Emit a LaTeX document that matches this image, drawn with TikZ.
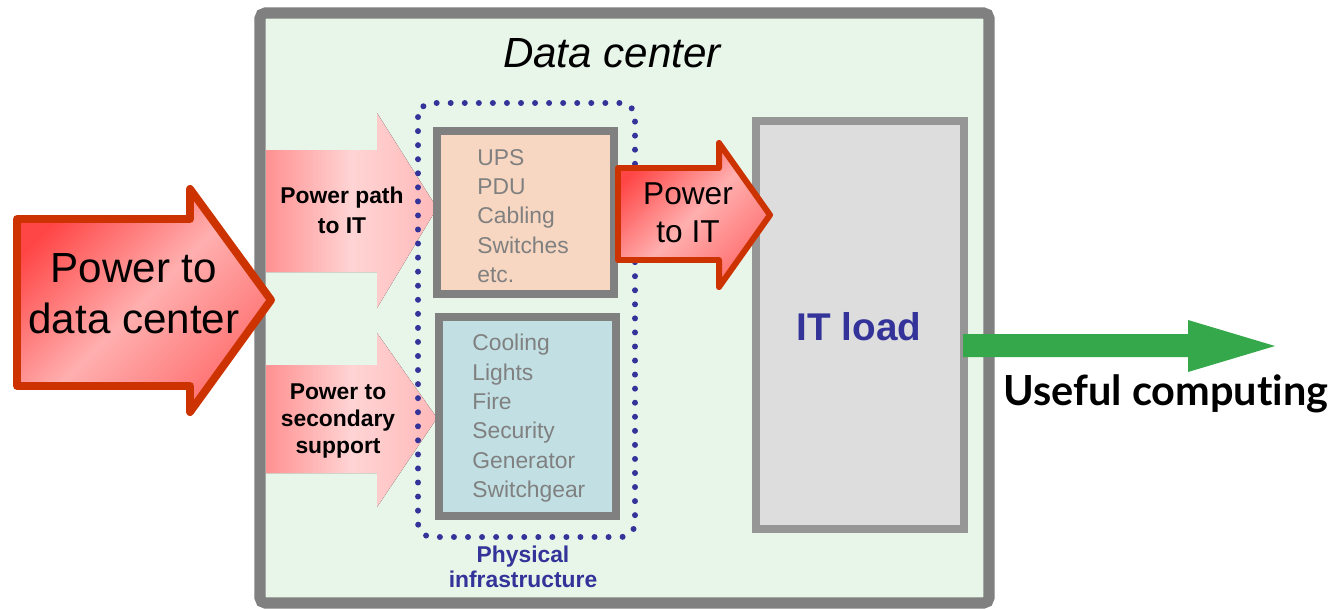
\documentclass[tikz,border=0pt]{standalone}
\usepackage{fontspec}
\setmainfont{Liberation Sans}
\newfontfamily\latofont[Ligatures=NoCommon]{Lato}
\usetikzlibrary{positioning,calc}

\definecolor{dcfill}{RGB}{232,245,233}
\definecolor{dcgray}{RGB}{128,128,128}
\definecolor{itgray}{RGB}{150,150,150}
\definecolor{itfill}{RGB}{221,221,221}
\definecolor{upsfill}{RGB}{247,215,193}
\definecolor{coolfill}{RGB}{194,224,228}
\definecolor{infblue}{RGB}{51,51,153}
\definecolor{arrowedge}{RGB}{204,51,0}
\definecolor{arrowred}{RGB}{255,70,70}
\definecolor{arrowpink}{RGB}{255,175,175}
\definecolor{arrowdeep}{RGB}{255,110,110}
\definecolor{pinkA}{RGB}{255,145,145}
\definecolor{pinkL}{RGB}{255,212,212}
\definecolor{pinkB}{RGB}{255,185,185}
\definecolor{usefulgreen}{RGB}{52,168,74}

\begin{document}
\begin{tikzpicture}[x=0.02cm,y=-0.02cm,
    redarrow/.style={draw=arrowedge, line join=round, top color=arrowred, bottom color=arrowdeep, middle color=arrowpink, shading angle=45},
    pinkarrow/.style={left color=pinkA, right color=pinkB, middle color=pinkL},
    listbox/.style={draw=dcgray, line width=4.5pt},
    items/.style={align=left, anchor=north west, inner sep=0pt, text=dcgray, font=\fontsize{13}{16.7}\selectfont}]

\useasboundingbox (0,0) rectangle (1337,608);

    \begin{scope} % Data center frame
        \draw[draw=dcgray, fill=dcfill, line width=6.3pt, rounded corners=3pt] (260,13) rectangle (989,603);
        \coordinate (T) at (612,68);
        \node[anchor=base, inner sep=0pt, font=\fontsize{24}{28}\selectfont\itshape] (title) at (T) {Data center};
    \end{scope}

    \begin{scope} % Incoming power
        \draw[redarrow, line width=4.5pt] (17,219) -- (190,219) -- (190,189) -- (271,300) -- (190,412) -- (190,386) -- (17,386) -- cycle;
        \coordinate (D) at (134,294);
        \node[align=center, inner sep=0pt, font=\fontsize{24}{29}\selectfont] (dcin) at (D) {Power to\\data center};

        \fill[pinkarrow] (266,150) -- (377,150) -- (377,113) -- (437,208) -- (377,308) -- (377,272) -- (266,272) -- cycle;
        \coordinate (P) at (342,210);
        \node[align=center, inner sep=0pt, font=\fontsize{13}{17}\selectfont\bfseries] (pathit) at (P) {Power path\\to IT};

        \fill[pinkarrow] (266,365) -- (377,365) -- (377,333) -- (437,418) -- (377,507) -- (377,473) -- (266,473) -- cycle;
        \coordinate (S) at (338,421);
        \node[align=center, inner sep=0pt, font=\fontsize{13}{15.3}\selectfont\bfseries] (secsup) at (S) {Power to\\secondary\\support};
    \end{scope}

    \begin{scope} % Physical infrastructure
        \draw[infblue, line width=3.4pt, line cap=round, dash pattern=on 0pt off 8pt, rounded corners=8pt] (418,103) rectangle (635,537);
        \draw[listbox, fill=upsfill] (437,131) rectangle (614,294);
        \draw[listbox, fill=coolfill] (439,317) rectangle (616,516);
        \node[items] (upsitems) at (477,149) {UPS\\PDU\\Cabling\\Switches\\etc.};
        \node[items] (coolitems) at (472,334) {Cooling\\Lights\\Fire\\Security\\Generator\\Switchgear};
        \coordinate (I) at (523,567);
        \node[align=center, inner sep=0pt, text=infblue, font=\fontsize{13}{14.2}\selectfont\bfseries] (physinf) at (I) {Physical\\infrastructure};
    \end{scope}

    \begin{scope} % IT side
        \draw[draw=itgray, fill=itfill, line width=4.5pt] (756,121) rectangle (964,529);
        \coordinate (L) at (859,340);
        \node[anchor=base, inner sep=0pt, text=infblue, font=\fontsize{22}{26}\selectfont\bfseries] (itload) at (L) {IT load};

        \draw[redarrow, line width=3.4pt] (618,168) -- (719,168) -- (719,143) -- (770,215) -- (719,287) -- (719,260) -- (618,260) -- cycle;
        \coordinate (W) at (688,213);
        \node[align=center, inner sep=0pt, font=\fontsize{18}{21.6}\selectfont] (powerit) at (W) {Power\\to IT};

        \fill[usefulgreen] (963,334) -- (1188,334) -- (1188,320) -- (1275,346) -- (1188,372) -- (1188,357) -- (963,357) -- cycle;
        \coordinate (U) at (1003,405);
        \node[anchor=base west, inner sep=0pt, font=\fontsize{23.6}{28}\latofont\bfseries] (useful) at (U) {Useful computing};
    \end{scope}

\end{tikzpicture}
\end{document}
